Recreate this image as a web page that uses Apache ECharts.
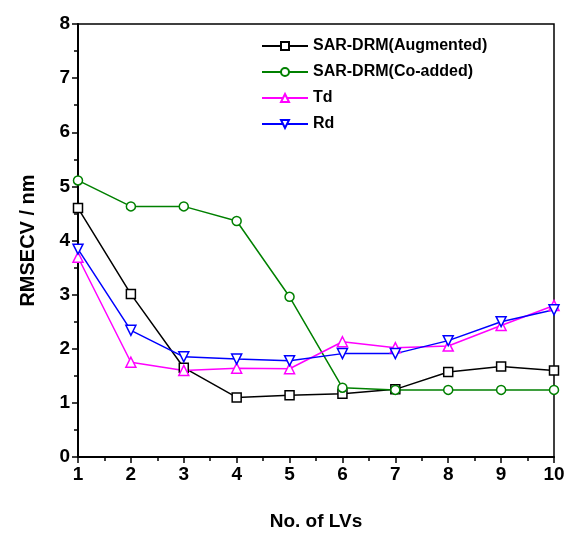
<!DOCTYPE html>
<html>
<head>
<meta charset="utf-8">
<script src="https://cdn.jsdelivr.net/npm/echarts@6/dist/echarts.min.js"></script>
<style>html,body{margin:0;padding:0;background:#fff;}#c{width:570px;height:536px;}</style>
</head>
<body>
<div id="c"></div>
<script>
const lvs = [1, 2, 3, 4, 5, 6, 7, 8, 9, 10];
const augmented = [4.6, 3.01, 1.65, 1.1, 1.14, 1.17, 1.25, 1.57, 1.67, 1.6];
const coAdded = [5.11, 4.63, 4.63, 4.36, 2.96, 1.28, 1.24, 1.24, 1.24, 1.24];
const td = [3.69, 1.75, 1.6, 1.64, 1.63, 2.13, 2.02, 2.05, 2.43, 2.8];
const rd = [3.84, 2.34, 1.85, 1.81, 1.78, 1.91, 1.91, 2.15, 2.5, 2.72];
const names = ['SAR-DRM(Augmented)', 'SAR-DRM(Co-added)', 'Td', 'Rd'];

const font = 'Liberation Sans, Arial, sans-serif';
function pairs(v){ return lvs.map((x,i)=>[x, v[i]]); }
function ser(name, data, color, symbol, size){
  return {
    name, type:'line', data: pairs(data), symbol, symbolSize: size,
    lineStyle:{color, width:1.5}, itemStyle:{color:'#fff', borderColor:color, borderWidth:1.5},
    color
  };
}
const chart = echarts.init(document.getElementById('c'));
chart.setOption({
  animation:false,
  backgroundColor:'#fff',
  grid:{left:78, right:16, top:24, bottom:77, show:true, borderColor:'#000', borderWidth:1.5},
  legend:{
    left:256, top:33, orient:'vertical', itemGap:10, itemWidth:46, itemHeight:10,
    textStyle:{fontFamily:font, fontWeight:'bold', fontSize:16, color:'#000'},
    data: names
  },
  xAxis:{
    type:'value', min:1, max:10, interval:1,
    name:'No. of LVs', nameLocation:'middle', nameGap:55,
    nameTextStyle:{fontFamily:font, fontWeight:'bold', fontSize:19, color:'#000'},
    axisLine:{lineStyle:{color:'#000', width:2}},
    axisTick:{length:6, lineStyle:{color:'#000', width:1.5}},
    minorTick:{show:true, splitNumber:2, length:4, lineStyle:{color:'#000', width:1.5}},
    axisLabel:{fontFamily:font, fontWeight:'bold', fontSize:19, color:'#000', margin:8},
    splitLine:{show:false}
  },
  yAxis:{
    type:'value', min:0, max:8, interval:1,
    name:'RMSECV / nm', nameLocation:'middle', nameGap:40,
    nameTextStyle:{fontFamily:font, fontWeight:'bold', fontSize:20, color:'#000'},
    axisLine:{show:true, lineStyle:{color:'#000', width:2}},
    axisTick:{show:true, length:6, lineStyle:{color:'#000', width:1.5}},
    minorTick:{show:true, splitNumber:2, length:4, lineStyle:{color:'#000', width:1.5}},
    axisLabel:{fontFamily:font, fontWeight:'bold', fontSize:19, color:'#000', margin:8},
    splitLine:{show:false}
  },
  series:[
    ser(names[0], augmented, '#000000', 'rect', 9),
    ser(names[1], coAdded, '#008000', 'circle', 9),
    ser(names[2], td, '#ff00ff', 'triangle', 10),
    ser(names[3], rd, '#0000ff', 'path://M0,0 L10,0 L5,10 Z', 10)
  ]
});
</script>
</body>
</html>
